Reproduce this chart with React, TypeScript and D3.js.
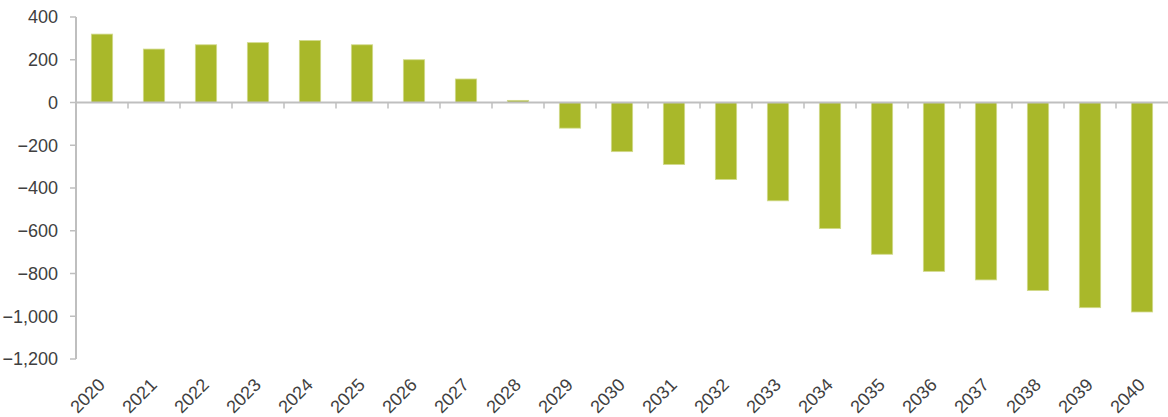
import React from "react";
import * as d3 from "d3";

const years = ["2020","2021","2022","2023","2024","2025","2026","2027","2028","2029","2030","2031","2032","2033","2034","2035","2036","2037","2038","2039","2040"];
const values = [320, 250, 270, 280, 290, 270, 200, 110, 10, -120, -230, -290, -360, -460, -590, -710, -790, -830, -880, -960, -980];
const yTicks = [400, 200, 0, -200, -400, -600, -800, -1000, -1200];

const W = 1168, H = 417;
const left = 76, right = 1168, top = 17, bottom = 359;

export default function App() {
  const x = d3.scaleBand<string>().domain(years).range([left, right]).paddingInner(0.59).paddingOuter(0.295);
  const y = d3.scaleLinear().domain([-1200, 400]).range([bottom, top]);
  const fmt = d3.format(",");
  const step = x.step();
  const font = "'Liberation Sans', Arial, sans-serif";
  return (
    <svg width={W} height={H} style={{ position: "absolute", left: 0, top: 0 }}>
      {values.map((v, i) => (
        <rect key={years[i]} x={x(years[i])} width={x.bandwidth()}
          y={y(Math.max(0, v))} height={Math.abs(y(v) - y(0))}
          fill="#a9b82a" stroke="#d2da8c" strokeWidth={0.8} />
      ))}
      <line x1={left} x2={left} y1={top} y2={bottom} stroke="#bfbfbf" strokeWidth={2} />
      {yTicks.map(t => (
        <g key={t}>
          <line x1={left - 6} x2={left} y1={y(t)} y2={y(t)} stroke="#bfbfbf" strokeWidth={1.5} />
          <text x={58} y={y(t)} dy="0.36em" textAnchor="end" fontFamily={font} fontSize={18} fill="#404040">{fmt(t)}</text>
        </g>
      ))}
      <line x1={left} x2={right} y1={y(0)} y2={y(0)} stroke="#bfbfbf" strokeWidth={2} />
      {years.map((yr, i) => (
        <line key={"t" + yr} x1={left + step * i} x2={left + step * i} y1={y(0)} y2={y(0) + 6} stroke="#bfbfbf" strokeWidth={1.5} />
      ))}
      {years.map(yr => {
        const cx = (x(yr) as number) + x.bandwidth() / 2 + 4;
        const cy = 386;
        return (
          <text key={"l" + yr} x={cx} y={cy} textAnchor="end" fontFamily={font} fontSize={18} fill="#404040"
            transform={`rotate(-45 ${cx} ${cy})`}>{yr}</text>
        );
      })}
    </svg>
  );
}
